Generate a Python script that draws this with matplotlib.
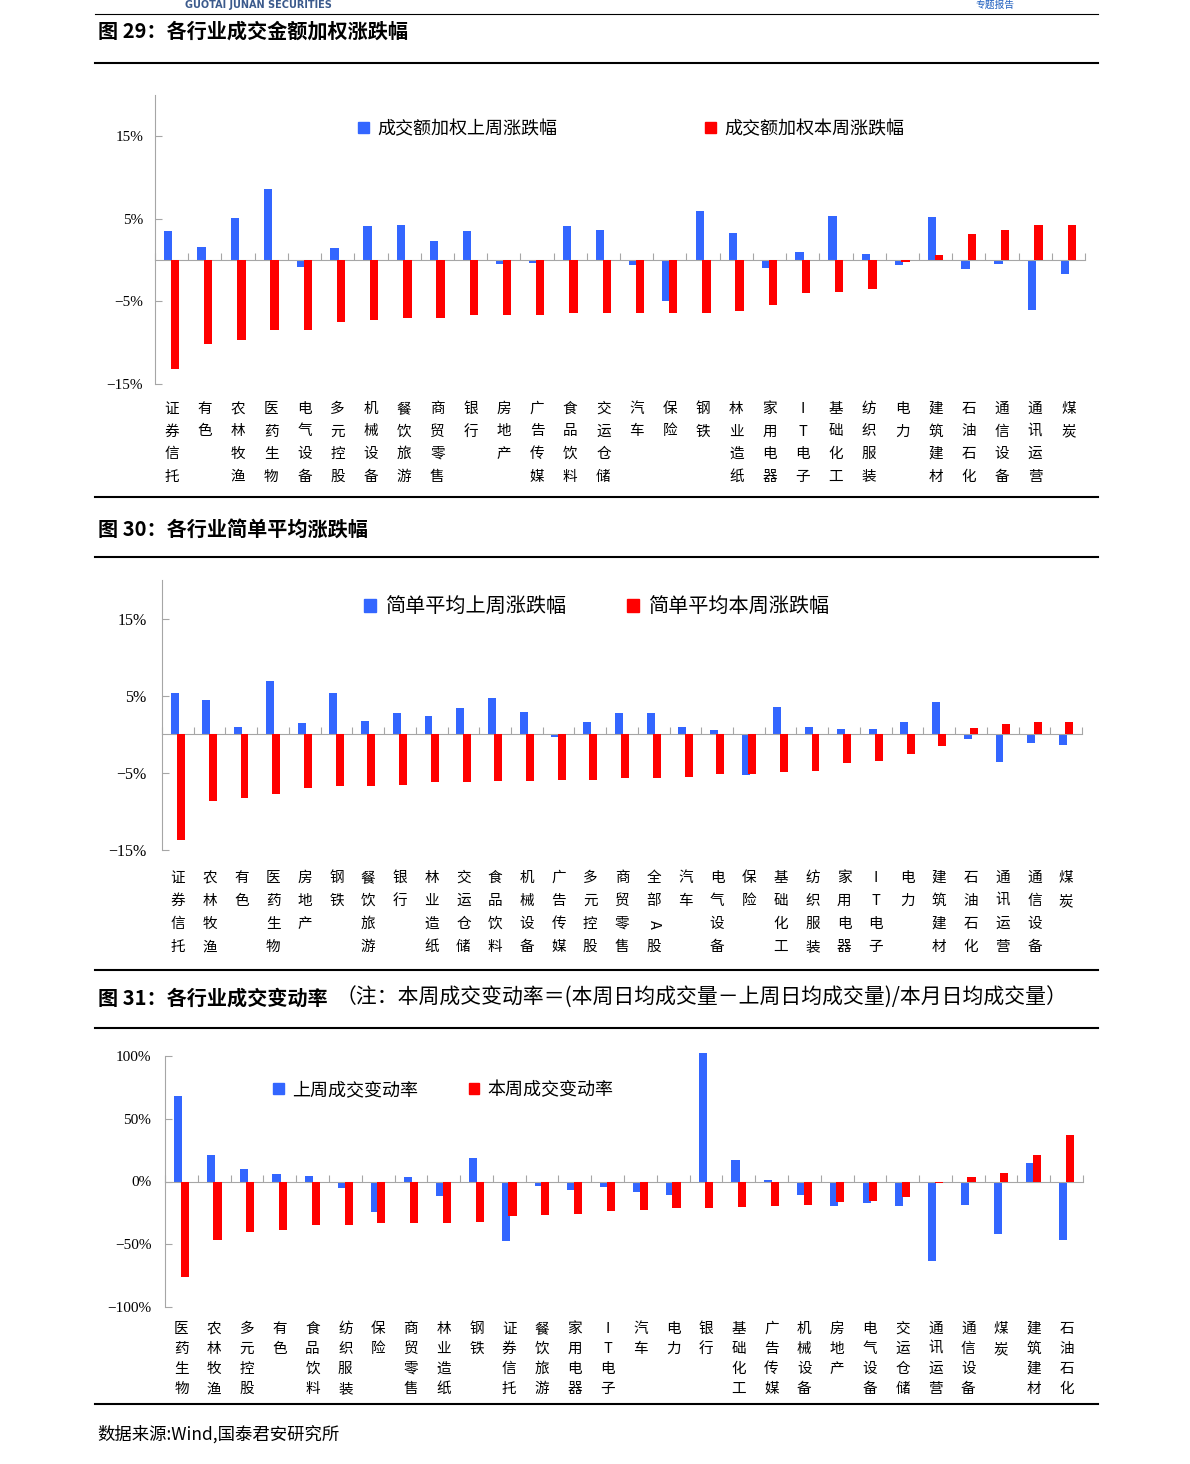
import numpy as np
import matplotlib
matplotlib.use('Agg')
import matplotlib.pyplot as plt
from matplotlib.patches import Patch
from matplotlib.lines import Line2D

plt.rcParams['font.family'] = ['Noto Sans CJK SC', 'DejaVu Sans']
plt.rcParams['axes.unicode_minus'] = True

#-------------------------------------------------------------------------------
#Data (%)
#-------------------------------------------------------------------------------
cat_29 = ['证券信托', '有色', '农林牧渔', '医药生物', '电气设备', '多元控股',
          '机械设备', '餐饮旅游', '商贸零售', '银行', '房地产', '广告传媒',
          '食品饮料', '交运仓储', '汽车', '保险', '钢铁', '林业造纸', '家用电器',
          'IT电子', '基础化工', '纺织服装', '电力', '建筑建材', '石油石化',
          '通信设备', '通讯运营', '煤炭']
last_29 = [3.5, 1.6, 5.1, 8.6, -0.8, 1.5, 4.1, 4.3, 2.3, 3.5, -0.5, -0.3, 4.1,
           3.6, -0.6, -5.0, 5.9, 3.3, -0.9, 1.0, 5.4, 0.8, -0.6, 5.2, -1.1,
           -0.5, -6.0, -1.7]
this_29 = [-13.2, -10.2, -9.7, -8.5, -8.5, -7.5, -7.3, -7.0, -7.0, -6.6, -6.6,
           -6.6, -6.4, -6.4, -6.4, -6.4, -6.4, -6.1, -5.4, -4.0, -3.9, -3.5,
           -0.2, 0.6, 3.2, 3.7, 4.3, 4.3]

cat_30 = ['证券信托', '农林牧渔', '有色', '医药生物', '房地产', '钢铁', '餐饮旅游',
          '银行', '林业造纸', '交运仓储', '食品饮料', '机械设备', '广告传媒',
          '多元控股', '商贸零售', '全部A股', '汽车', '电气设备', '保险', '基础化工',
          '纺织服装', '家用电器', 'IT电子', '电力', '建筑建材', '石油石化',
          '通讯运营', '通信设备', '煤炭']
last_30 = [5.4, 4.4, 1.0, 6.9, 1.4, 5.3, 1.7, 2.7, 2.4, 3.4, 4.7, 2.9, -0.4,
           1.6, 2.7, 2.7, 1.0, 0.5, -5.3, 3.6, 1.0, 0.7, 0.7, 1.6, 4.2, -0.6,
           -3.6, -1.1, -1.4]
this_30 = [-13.7, -8.6, -8.3, -7.8, -6.9, -6.7, -6.7, -6.6, -6.2, -6.2, -6.0,
           -6.0, -5.9, -5.9, -5.7, -5.7, -5.6, -5.2, -5.1, -4.9, -4.7, -3.7,
           -3.5, -2.5, -1.5, 0.8, 1.3, 1.6, 1.6]

cat_31 = ['医药生物', '农林牧渔', '多元控股', '有色', '食品饮料', '纺织服装', '保险',
          '商贸零售', '林业造纸', '钢铁', '证券信托', '餐饮旅游', '家用电器',
          'IT电子', '汽车', '电力', '银行', '基础化工', '广告传媒', '机械设备',
          '房地产', '电气设备', '交运仓储', '通讯运营', '通信设备', '煤炭',
          '建筑建材', '石油石化']
last_31 = [68.1, 21.3, 9.6, 6.1, 4.3, -5.3, -24.5, 3.5, -11.7, 18.6, -47.1,
           -3.7, -6.4, -4.5, -8.5, -10.9, 102.0, 17.3, 1.3, -10.9, -19.9, -17.3,
           -19.9, -63.3, -18.4, -41.5, 14.9, -46.3]
this_31 = [-76.3, -46.5, -40.2, -38.3, -34.8, -34.8, -33.0, -33.0, -33.0, -31.9,
           -27.7, -26.6, -25.5, -23.4, -22.6, -21.5, -21.5, -20.5, -19.7, -18.6,
           -16.5, -15.2, -12.2, -0.8, 3.7, 6.4, 21.5, 37.0]

ticks_pct = [-15, -5, 5, 15]
ticks_31 = [-100, -50, 0, 50, 100]

#-------------------------------------------------------------------------------
#Layout helpers (pixel coordinates of the 1190x1464 page)
#-------------------------------------------------------------------------------
W, H = 1190, 1464
C_BLUE = '#3366FF'
C_RED = '#FF0000'
C_AXIS = '#A6A6A6'

fig = plt.figure(figsize=(W/100, H/100), dpi=100)


def fy(y):
     return 1-y/H


def hline(y, lw):
     fig.add_artist(Line2D([95/W, 1098/W], [fy(y), fy(y)], color='black',
                           lw=lw))


def pct(v):
     return (str(v)+'%').replace('-', '\u2212')


def panel(box, cats, last, this, yticks, ylim, lab_y0, lab_dy, lab_fs,
          tick_fs, tick_pad):
     left, right, top, bottom = box
     ax = fig.add_axes([left/W, fy(bottom), (right-left)/W, (bottom-top)/H])
     x = np.arange(len(cats))
     ax.bar(x-0.1, last, width=0.25, color=C_BLUE, zorder=2, clip_on=False)
     ax.bar(x+0.1, this, width=0.25, color=C_RED, zorder=3, clip_on=False)
     ax.set_xlim(-0.5, len(cats)-0.5)
     ax.set_ylim(*ylim)
     ax.spines['top'].set_visible(False)
     ax.spines['right'].set_visible(False)
     ax.spines['bottom'].set_position(('data', 0))
     ax.spines['bottom'].set_color(C_AXIS)
     ax.spines['left'].set_color(C_AXIS)
     ax.set_xticks(np.arange(len(cats)+1)-0.5)
     ax.set_xticklabels([])
     ax.tick_params(axis='x', direction='in', length=5, color=C_AXIS)
     ax.set_yticks(yticks)
     ax.set_yticklabels([pct(v) for v in yticks],
                        fontfamily='Liberation Serif', fontsize=tick_fs)
     ax.tick_params(axis='y', direction='in', length=5, color=C_AXIS,
                    pad=tick_pad)
     for i, lab in enumerate(cats):
          for j, ch in enumerate(lab):
               ax.annotate(ch, xy=(i, 0), xycoords=('data', 'axes fraction'),
                           xytext=(0, -(lab_y0+j*lab_dy)),
                           textcoords='offset pixels', ha='center',
                           va='center', fontsize=lab_fs,
                           rotation=-90 if ch == 'A' else 0,
                           annotation_clip=False)
     return ax


def legend(ax, labels, x, y, fs, colsp):
     handles = [Patch(color=C_BLUE), Patch(color=C_RED)]
     ax.legend(handles, labels, ncol=2, loc='center left',
               bbox_to_anchor=(x/W, fy(y)), bbox_transform=fig.transFigure,
               frameon=False, fontsize=fs, handlelength=0.6, handleheight=0.6,
               handletextpad=0.45, columnspacing=colsp, borderpad=0,
               borderaxespad=0)

#-------------------------------------------------------------------------------
#Page header
#-------------------------------------------------------------------------------
fig.text(185/W, fy(0), 'GUOTAI JUNAN SECURITIES', fontsize=7,
         fontweight='bold', color='#3B5A8C', va='top', family='DejaVu Sans')
fig.text(975/W, fy(0), '专题报告', fontsize=7, color='#1F5FBF', va='top')
hline(14, 0.8)

#-------------------------------------------------------------------------------
#Figure 29
#-------------------------------------------------------------------------------
fig.text(98/W, fy(31), '图 29：各行业成交金额加权涨跌幅', fontsize=14.5,
         fontweight='bold', va='center')
hline(63, 1.5)
ax1 = panel((155, 1085, 95, 384), cat_29, last_29, this_29, ticks_pct,
            (-15, 20), 25, 22.5, 10.5, 11, 8.6)
legend(ax1, ['成交额加权上周涨跌幅', '成交额加权本周涨跌幅'], 358, 129, 13, 8.2)
hline(497, 1.5)

#-------------------------------------------------------------------------------
#Figure 30
#-------------------------------------------------------------------------------
fig.text(98/W, fy(529), '图 30：各行业简单平均涨跌幅', fontsize=14.5,
         fontweight='bold', va='center')
hline(557, 1.5)
ax2 = panel((162, 1082, 580, 850), cat_30, last_30, this_30, ticks_pct,
            (-15, 20), 28, 23, 10.5, 11.5, 11.2)
legend(ax2, ['简单平均上周涨跌幅', '简单平均本周涨跌幅'], 364, 607, 14.5, 3.0)
hline(970, 1.5)

#-------------------------------------------------------------------------------
#Figure 31
#-------------------------------------------------------------------------------
t31 = fig.text(98/W, fy(998), '图 31：各行业成交变动率', fontsize=14.5,
               fontweight='bold', va='center')
ax3 = panel((165, 1083, 1056, 1307), cat_31, last_31, this_31, ticks_31,
            (-100, 100), 22, 20, 10.5, 11, 9.9)
ax3.annotate('（注：本周成交变动率＝(本周日均成交量－上周日均成交量)/本月日均成交量）',
             xy=(1, 0.5), xycoords=t31, xytext=(8, 0),
             textcoords='offset pixels', fontsize=15, va='center',
             annotation_clip=False)
legend(ax3, ['上周成交变动率', '本周成交变动率'], 273, 1090, 13, 2.8)
hline(1028, 1.5)
hline(1404, 1.5)

fig.text(97/W, fy(1434), '数据来源:Wind,国泰君安研究所', fontsize=12.5,
         va='center')

fig.savefig('out.png', dpi=100)
